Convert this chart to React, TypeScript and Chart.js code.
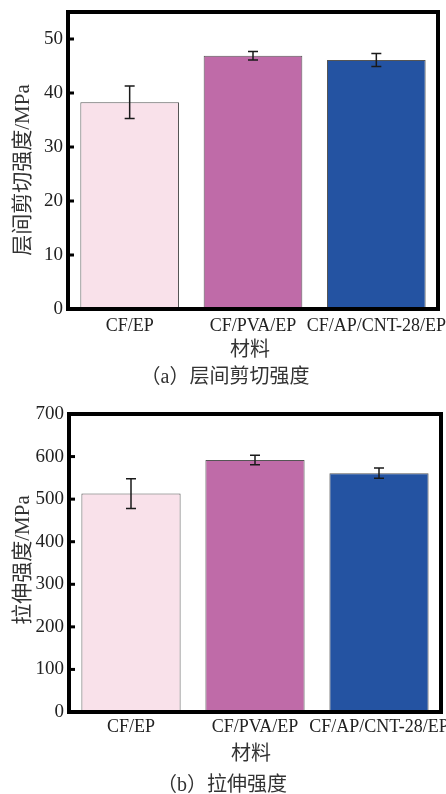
import React, { useEffect, useRef } from "react";
import { Chart, registerables } from "chart.js";

Chart.register(...registerables);

const categories = ["CF/EP", "CF/PVA/EP", "CF/AP/CNT-28/EP"];
const barColors = ["#F9E1EA", "#BF6BA8", "#2453A2"];

const shearValues = [38.3, 46.9, 46.1];
const shearErrors = [3.0, 0.8, 1.2];
const shearTicks = [0, 10, 20, 30, 40, 50];

const tensileValues = [513, 592, 561];
const tensileErrors = [35, 11, 12];
const tensileTicks = [0, 100, 200, 300, 400, 500, 600, 700];

const xTitle = "材料";

type PanelProps = {
  width: number;
  height: number;
  values: number[];
  errors: number[];
  ticks: number[];
  yMax: number;
  yTitle: string;
  caption: string;
  area: { left: number; top: number; right: number; bottom: number };
  yTitlePos: { x: number; y: number };
  xTitlePos: { x: number; y: number };
  captionPos: { x: number; y: number };
  tickPadding: number;
};

const SERIF = "'Liberation Serif', 'Noto Sans CJK SC', serif";

function BarPanel(p: PanelProps) {
  const ref = useRef<HTMLCanvasElement>(null);
  useEffect(() => {
    const canvas = ref.current!;
    const plugin = {
      id: "extras",
      afterDatasetsDraw(chart: any) {
        const c = chart.ctx as CanvasRenderingContext2D;
        const a = chart.chartArea;
        const ys = chart.scales.y;
        const meta = chart.getDatasetMeta(0);
        c.save();
        // error bars
        c.strokeStyle = "#1a1a1a";
        c.lineWidth = 1.5;
        meta.data.forEach((bar: any, i: number) => {
          const v = p.values[i];
          const e = p.errors[i];
          const yt = ys.getPixelForValue(v + e);
          const yb = ys.getPixelForValue(v - e);
          const x = bar.x;
          c.beginPath();
          c.moveTo(x, yt);
          c.lineTo(x, yb);
          c.moveTo(x - 5, yt);
          c.lineTo(x + 5, yt);
          c.moveTo(x - 5, yb);
          c.lineTo(x + 5, yb);
          c.stroke();
        });
        // inward tick marks
        c.strokeStyle = "#000";
        c.lineWidth = 3;
        ys.ticks.forEach((t: any) => {
          const y = ys.getPixelForValue(t.value);
          c.beginPath();
          c.moveTo(a.left, y);
          c.lineTo(a.left + 6, y);
          c.stroke();
        });
        // frame
        c.lineWidth = 4;
        c.strokeRect(a.left, a.top, a.right - a.left, a.bottom - a.top);
        // texts
        c.fillStyle = "#333";
        c.textAlign = "center";
        c.textBaseline = "middle";
        c.font = `21px ${SERIF}`;
        c.save();
        c.translate(p.yTitlePos.x, p.yTitlePos.y);
        c.rotate(-Math.PI / 2);
        c.fillText(p.yTitle, 0, 0);
        c.restore();
        c.font = `20px ${SERIF}`;
        c.fillText(xTitle, p.xTitlePos.x, p.xTitlePos.y);
        c.fillText(p.caption, p.captionPos.x, p.captionPos.y);
        c.restore();
      },
    };
    const chart = new Chart(canvas, {
      type: "bar",
      data: {
        labels: categories,
        datasets: [
          {
            data: p.values,
            backgroundColor: barColors,
            borderColor: "#555",
            borderWidth: 1,
            barPercentage: 0.8,
            categoryPercentage: 1.0,
          },
        ],
      },
      options: {
        animation: false,
        responsive: false,
        maintainAspectRatio: false,
        layout: {
          padding: {
            left: 0,
            top: p.area.top,
            right: p.width - p.area.right,
            bottom: 0,
          },
        },
        plugins: { legend: { display: false }, tooltip: { enabled: false } },
        scales: {
          x: {
            grid: { display: false, drawTicks: false },
            border: { display: false },
            ticks: {
              color: "#222",
              font: { family: SERIF, size: 18 },
              padding: p.tickPadding,
              maxRotation: 0,
              autoSkip: false,
            },
            afterFit: (s: any) => {
              s.height = p.height - p.area.bottom;
              s.paddingLeft = 0;
              s.paddingRight = 0;
            },
          },
          y: {
            min: 0,
            max: p.yMax,
            grid: { display: false, drawTicks: false },
            border: { display: false },
            ticks: {
              color: "#222",
              font: { family: SERIF, size: 19 },
              padding: 5,
            },
            afterBuildTicks: (s: any) => {
              s.ticks = p.ticks.map((v) => ({ value: v }));
            },
            afterFit: (s: any) => {
              s.width = p.area.left;
              s.paddingTop = 0;
              s.paddingBottom = 0;
            },
          },
        },
      },
      plugins: [plugin],
    });
    return () => chart.destroy();
  }, []);
  return (
    <canvas
      ref={ref}
      width={p.width}
      height={p.height}
      style={{ display: "block", width: p.width, height: p.height }}
    />
  );
}

export default function App() {
  return (
    <div
      style={{
        position: "absolute",
        left: 0,
        top: 0,
        width: 446,
        height: 794,
        background: "#fff",
      }}
    >
      <BarPanel
        width={446}
        height={390}
        values={shearValues}
        errors={shearErrors}
        ticks={shearTicks}
        yMax={55}
        yTitle="层间剪切强度/MPa"
        caption="（a）层间剪切强度"
        area={{ left: 68, top: 12, right: 438, bottom: 309 }}
        yTitlePos={{ x: 23, y: 170 }}
        xTitlePos={{ x: 250, y: 351 }}
        captionPos={{ x: 225, y: 378 }}
        tickPadding={6}
      />
      <BarPanel
        width={446}
        height={404}
        values={tensileValues}
        errors={tensileErrors}
        ticks={tensileTicks}
        yMax={700}
        yTitle="拉伸强度/MPa"
        caption="（b）拉伸强度"
        area={{ left: 69, top: 24, right: 441, bottom: 322 }}
        yTitlePos={{ x: 23, y: 170 }}
        xTitlePos={{ x: 251, y: 365 }}
        captionPos={{ x: 222, y: 396 }}
        tickPadding={4}
      />
    </div>
  );
}
